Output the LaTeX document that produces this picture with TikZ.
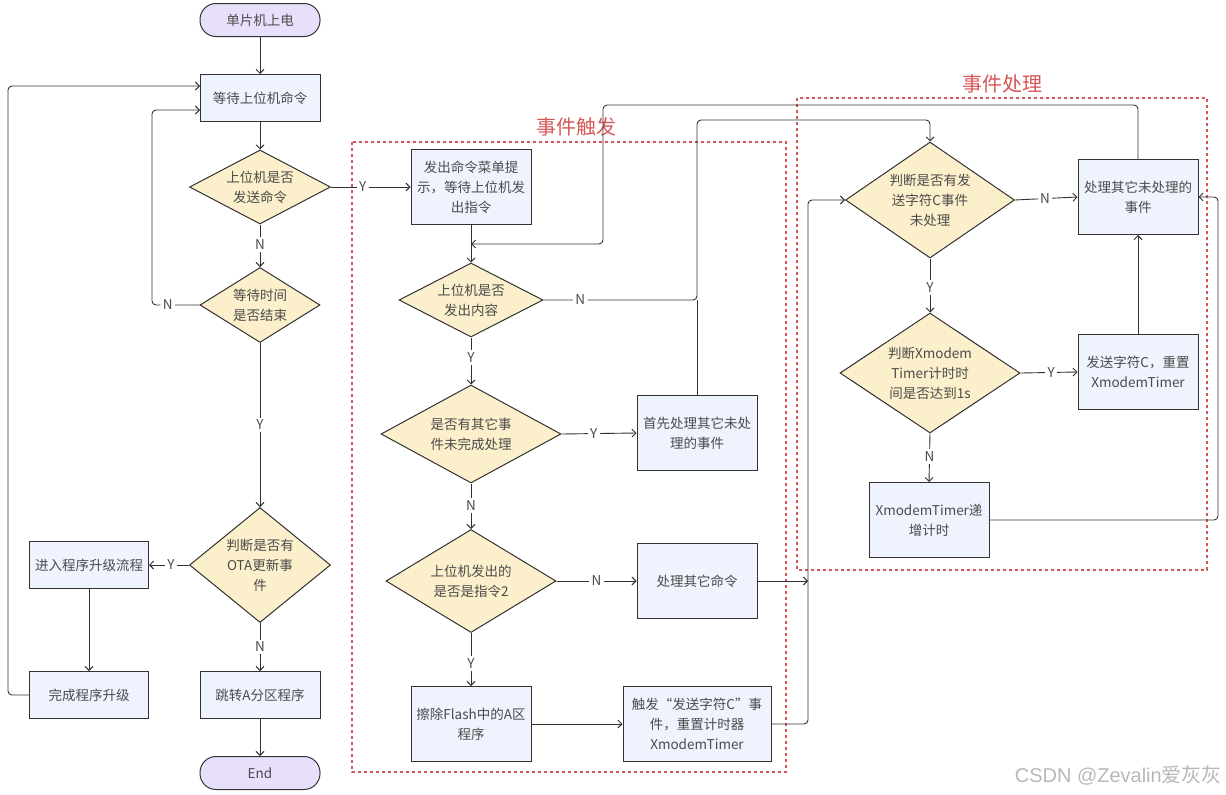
\documentclass[tikz,border=0pt]{standalone}
\usepackage{fontspec}
\setmainfont{Noto Sans CJK SC}
\newfontfamily\wmlatin{Liberation Sans}
\usetikzlibrary{shapes.geometric,arrows.meta}
\definecolor{boxfill}{RGB}{239,243,253}
\definecolor{diafill}{RGB}{251,240,203}
\definecolor{termfill}{RGB}{232,224,250}
\definecolor{linec}{RGB}{50,50,50}
\definecolor{textc}{RGB}{75,75,75}
\definecolor{redc}{RGB}{214,86,86}
\newcommand\myfont{\fontsize{13.5}{20}\selectfont}
\begin{document}
\begin{tikzpicture}[x=1pt,y=-1pt,
  box/.style={draw=linec, fill=boxfill, line width=1pt, minimum width=120, minimum height=47, inner sep=2pt, align=center, font=\myfont, text=textc},
  dia/.style={shape=diamond, draw=linec, fill=diafill, line width=1pt, inner sep=0pt},
  dtext/.style={align=center, font=\myfont, text=textc, inner sep=0pt},
  term/.style={draw=linec, fill=termfill, line width=1pt, rounded corners=16, minimum width=120, minimum height=33, font=\myfont, text=textc},
  arr/.style={draw=linec, line width=0.9pt, -{Straight Barb[length=4pt,width=8pt]}},
  ln/.style={draw=linec, line width=0.9pt},
  lbl/.style={fill=white, text=textc, inner sep=2.5pt, font=\myfont},
  region/.style={draw=redc, line width=1.6pt, dash pattern=on 3pt off 3pt},
  rtitle/.style={text=redc, font=\fontsize{20}{24}\selectfont}
]
\useasboundingbox (0,0) rectangle (1226,795);

% regions
\draw[region] (352,142) rectangle (786,772);
\draw[region] (797,98) rectangle (1207,570);
\node[rtitle] (t1) at (576,127) {事件触发};
\node[rtitle] (t2) at (1002,84) {事件处理};

% left column
\node[term] (start) at (260,20) {单片机上电};
\node[box] (wait) at (260,98) {等待上位机命令};
\node[dia, minimum width=141, minimum height=74, label={[dtext]center:{上位机是否\\发送命令}}] (d1) at (260,187) {};
\node[dia, minimum width=120, minimum height=75, label={[dtext]center:{等待时间\\是否结束}}] (d2) at (260,305) {};
\node[dia, minimum width=141, minimum height=115, label={[dtext]center:{判断是否有\\OTA更新事\\件}}] (ota) at (260,565) {};
\node[box] (jump) at (260,695) {跳转A分区程序};
\node[term] (end) at (260,773) {End};
\node[box, minimum width=119] (enter) at (89,565) {进入程序升级流程};
\node[box, minimum width=119] (done) at (89,695) {完成程序升级};

% middle column
\node[box, minimum height=75] (menu) at (471,187) {发出命令菜单提\\示，等待上位机发\\出指令};
\node[dia, minimum width=144, minimum height=74, label={[dtext]center:{上位机是否\\发出内容}}] (dc) at (471,300) {};
\node[dia, minimum width=180, minimum height=98, label={[dtext]center:{是否有其它事\\件未完成处理}}] (dother) at (471,434) {};
\node[dia, minimum width=170, minimum height=103, label={[dtext]center:{上位机发出的\\是否是指令2}}] (dcmd) at (471,581) {};
\node[box, minimum height=75] (erase) at (471,724) {擦除Flash中的A区\\程序};
\node[box, minimum height=75] (first) at (697,433) {首先处理其它未处\\理的事件};
\node[box, minimum height=75] (oc) at (697,581) {处理其它命令};
\node[box, minimum width=148, minimum height=75] (trig) at (697,724) {触发“发送字符C”事\\件，重置计时器\\XmodemTimer};

% right column
\node[dia, minimum width=169, minimum height=116, label={[dtext]center:{判断是否有发\\送字符C事件\\未处理}}] (d3) at (930,200) {};
\node[box, minimum height=75] (pe) at (1138,197) {处理其它未处理的\\事件};
\node[dia, minimum width=180, minimum height=120, label={[dtext]center:{判断Xmodem\\Timer计时时\\间是否达到1s}}] (d4) at (930,373) {};
\node[box, minimum height=75] (sendc) at (1138,372) {发送字符C，重置\\XmodemTimer};
\node[box, minimum height=75] (inc) at (929,520) {XmodemTimer递\\增计时};

% merge points
\coordinate (w110) at (200,110);
\coordinate (w86) at (200,86);
\coordinate (m1) at (471,244);
\coordinate (m2) at (808,581);

% left connectors
\draw[arr] (start) -- (wait);
\draw[arr] (wait) -- (d1);
\draw[arr] (d1.south) -- node[lbl,pos=0.48]{N} (d2.north);
\draw[arr, rounded corners=4] (d2.west) -- node[lbl,pos=0.67]{N} (152,305) |- (w110);
\draw[arr] (d2.south) -- node[lbl,pos=0.5]{Y} (ota.north);
\draw[arr] (ota.west) -- node[lbl,pos=0.45]{Y} (enter.east);
\draw[arr] (ota.south) -- node[lbl,pos=0.5]{N} (jump.north);
\draw[arr] (jump) -- (end);
\draw[arr] (enter) -- (done);
\draw[arr, rounded corners=4] (done.west) -- (8,695) |- (w86);
\draw[arr] (d1.east) -- node[lbl,pos=0.4]{Y} (menu.west);

% middle connectors
\draw[arr] (menu.south) -- (dc.north);
\draw[arr, rounded corners=4] (pe.north) |- (603,105) |- (m1);
\draw[arr, rounded corners=4] (dc.east) -- node[lbl,pos=0.24]{N} (697,300) |- (930,120) -- (d3.north);
\draw[ln, rounded corners=4] (first.north) -- (697,300);
\draw[arr] (dc.south) -- node[lbl,pos=0.42]{Y} (dother.north);
\draw[arr] (dother.east) -- node[lbl,pos=0.43]{Y} (first.west);
\draw[arr] (dother.south) -- node[lbl,pos=0.48]{N} (dcmd.north);
\draw[arr] (dcmd.east) -- node[lbl,pos=0.5]{N} (oc.west);
\draw[arr] (dcmd.south) -- node[lbl,pos=0.57]{Y} (erase.north);
\draw[arr] (erase) -- (trig);
\draw[arr] (oc.east) -- (m2);
\draw[arr, rounded corners=4] (trig.east) -| (808,200) -- (d3.west);

% right connectors
\draw[arr] (d3.east) -- node[lbl,pos=0.48]{N} (pe.west);
\draw[arr] (d3.south) -- node[lbl,pos=0.53]{Y} (d4.north);
\draw[arr] (d4.east) -- node[lbl,pos=0.54]{Y} (sendc.west);
\draw[arr] (d4.south) -- node[lbl,pos=0.47]{N} (inc.north);
\draw[arr] (sendc) -- (pe);
\draw[arr, rounded corners=4] (inc.east) -| (1218,197) -- (pe.east);

% watermark
\node[text=black!28, font=\fontsize{20}{22}\selectfont, anchor=east, inner sep=0pt] (wm) at (1222,775) {{\wmlatin CSDN @Zevalin}爱灰灰};
\end{tikzpicture}
\end{document}
